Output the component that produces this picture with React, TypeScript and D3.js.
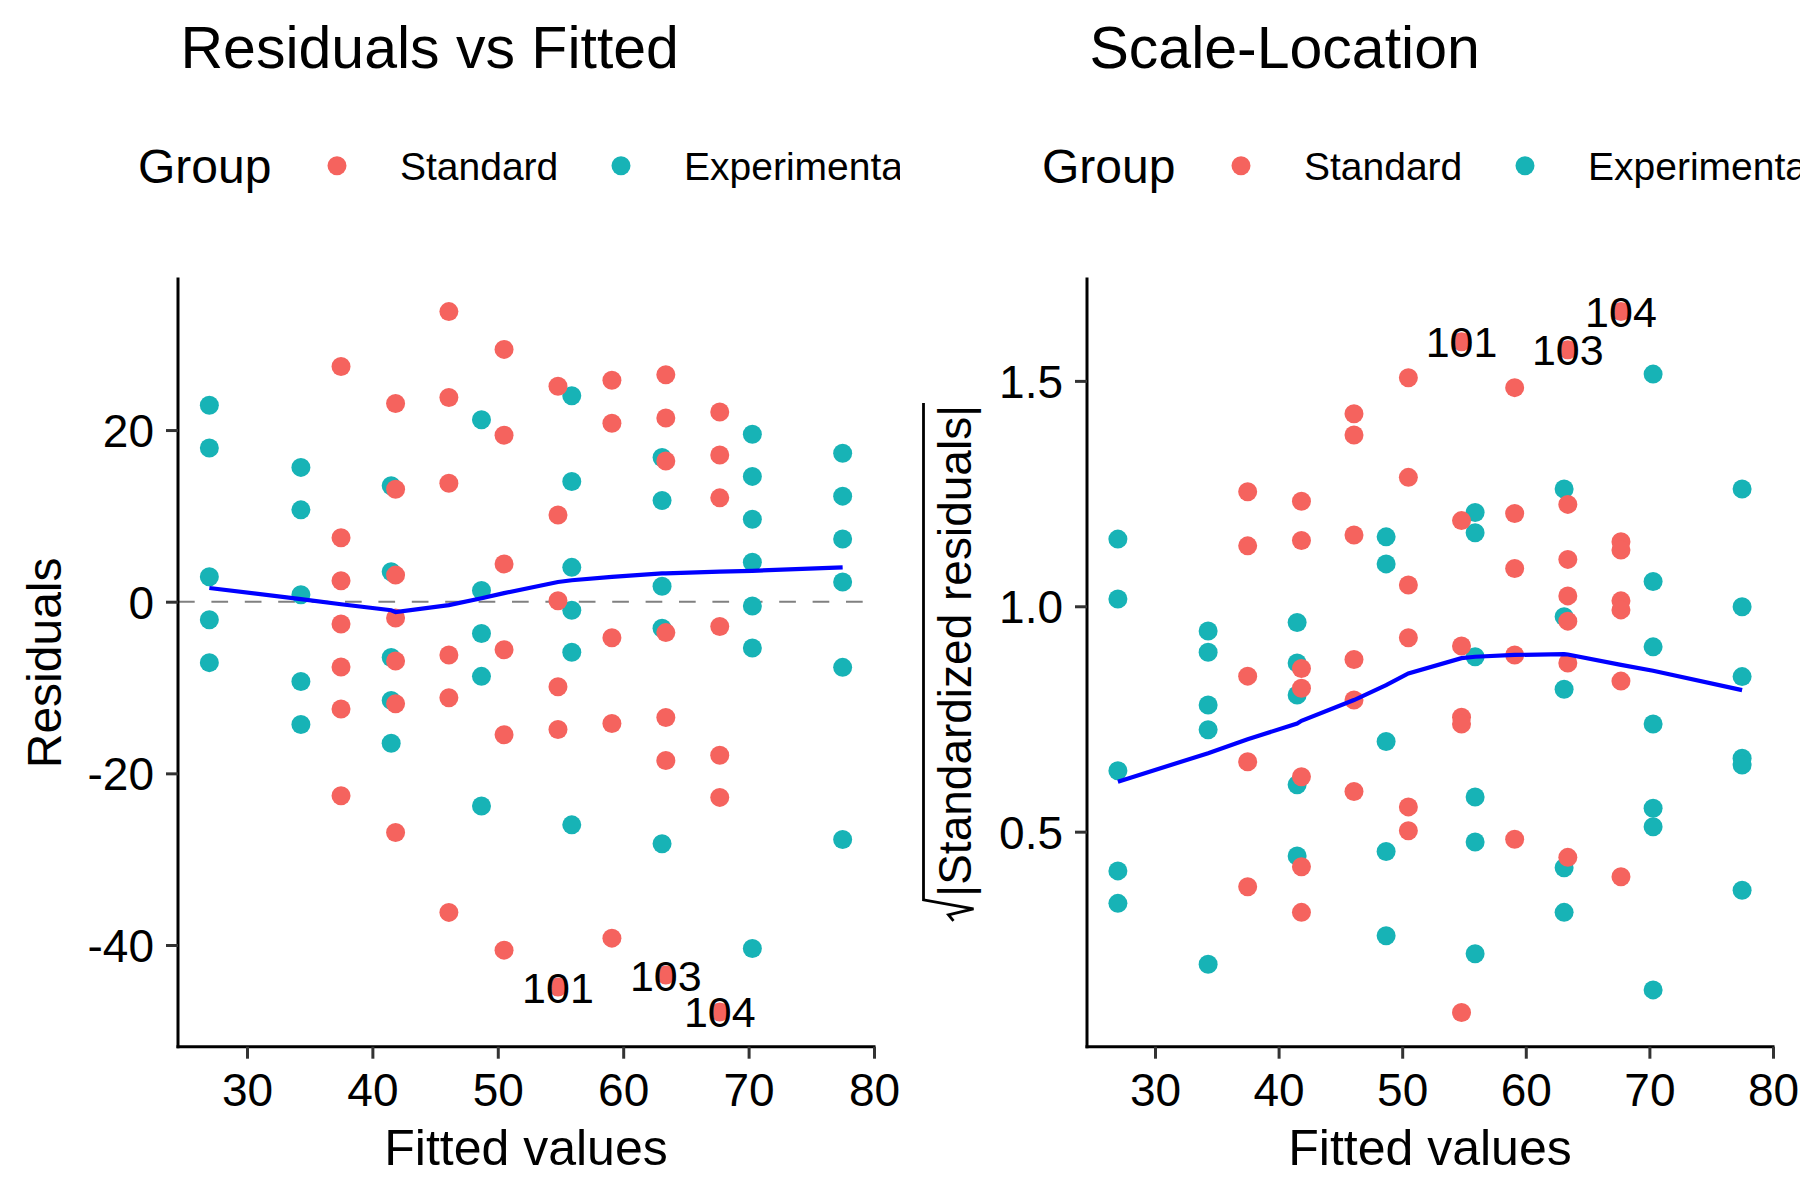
import React, { useEffect, useRef } from "react";
import * as d3 from "d3";

// fitted value of each column of points, and the group it belongs to
const fittedValues = [27.0, 34.3, 37.5, 41.5, 41.85, 46.1, 48.7, 50.5, 54.8, 55.9, 59.1, 63.1, 63.4, 67.7, 70.3, 77.5];
const columnGroup = [
  "Experimental", "Experimental", "Standard", "Experimental", "Standard", "Standard",
  "Experimental", "Standard", "Standard", "Experimental", "Standard", "Experimental",
  "Standard", "Standard", "Experimental", "Experimental",
];

// residuals per column (left panel)
const residuals = [
  [22.9, 17.9, 2.9, -2.1, -7.1],
  [15.65, 10.7, 0.8, -9.3, -14.3],
  [27.4, 7.45, 2.45, -2.6, -7.6, -12.5, -22.6],
  [13.5, 3.5, -6.5, -11.5, -16.5],
  [23.1, 13.1, 3.1, -1.9, -6.9, -11.9, -26.9],
  [33.8, 23.8, 13.8, -6.2, -11.2, -36.2],
  [21.2, 1.3, -3.7, -8.7, -23.8],
  [29.4, 19.4, 4.4, -5.6, -15.5, -40.6],
  [25.1, 10.1, 0.1, -9.9, -14.9, -44.9],
  [24.0, 14.0, 4.0, -1.0, -5.9, -26.0],
  [25.8, 20.8, -4.2, -14.2, -39.2],
  [16.8, 11.8, 1.8, -3.1, -28.2],
  [26.45, 21.4, 16.4, -3.6, -13.5, -18.5, -43.5],
  [22.1, 17.1, 12.1, -2.9, -17.9, -22.8, -47.8],
  [19.5, 14.6, 9.6, 4.6, -0.5, -5.4, -40.4],
  [17.3, 12.3, 7.3, 2.3, -7.65, -27.7],
];

// sqrt(|standardized residuals|) per column (right panel)
const sqrtStdResiduals = [
  [1.149, 1.016, 0.635, 0.413, 0.341],
  [0.945, 0.898, 0.781, 0.726, 0.206],
  [1.254, 1.134, 0.845, 0.655, 0.378],
  [0.964, 0.874, 0.803, 0.604, 0.446],
  [1.233, 1.146, 0.862, 0.818, 0.622, 0.422, 0.321],
  [1.427, 1.38, 1.158, 0.882, 0.792, 0.589],
  [1.154, 1.094, 0.7, 0.456, 0.269],
  [1.507, 1.286, 1.047, 0.93, 0.555, 0.502],
  [1.587, 1.19, 0.912, 0.754, 0.739, 0.099],
  [1.208, 1.163, 0.888, 0.577, 0.477, 0.229],
  [1.485, 1.206, 1.084, 0.892, 0.483],
  [1.26, 0.977, 0.816, 0.42, 0.321],
  [1.569, 1.226, 1.104, 1.023, 0.967, 0.874, 0.443],
  [1.654, 1.143, 1.125, 1.012, 0.992, 0.834, 0.4],
  [1.515, 1.055, 0.91, 0.739, 0.552, 0.511, 0.149],
  [1.26, 0.999, 0.844, 0.663, 0.648, 0.37],
];

// smoother through the columns
const residSmooth = [1.6, 0.3, -0.3, -1.0, -1.2, -0.4, 0.4, 1.0, 2.3, 2.5, 2.9, 3.3, 3.3, 3.5, 3.6, 4.0];
const scaleSmooth = [0.611, 0.674, 0.705, 0.74, 0.746, 0.792, 0.825, 0.851, 0.885, 0.888, 0.892, 0.894, 0.893, 0.87, 0.857, 0.814];

// labelled observations
const labelIds = ["101", "103", "104"];
const labelColumn = [8, 12, 13];
const labelResidual = [-44.9, -43.5, -47.8];
const labelScale = [1.587, 1.569, 1.654];

const groupLevels = ["Standard", "Experimental"];
const groupColors = ["#F5635E", "#17B3B6"];

const xTicks = [30, 40, 50, 60, 70, 80];
const residTicks = [-40, -20, 0, 20];
const scaleTicks = [0.5, 1.0, 1.5];

const FONT = "'Liberation Sans', Arial, Helvetica, sans-serif";
const W = 1800;
const H = 1200;

// plain hyphen for negatives, like R does
const intFormat = (v: number) => String(Math.round(v));
const oneDecimal = (v: number) => v.toFixed(1);

interface PanelSpec {
  clipX: number;
  left: number;
  right: number;
  title: string;
  values: number[][];
  smooth: number[];
  yDomain: [number, number];
  yTicks: number[];
  tickFormat: (v: number) => string;
  labelValues: number[];
  zeroLine: boolean;
  yTitle: "plain" | "sqrt";
}

const panels: PanelSpec[] = [
  {
    clipX: 0, left: 178, right: 874, title: "Residuals vs Fitted",
    values: residuals, smooth: residSmooth, yDomain: [-51.85, 37.6], yTicks: residTicks,
    tickFormat: intFormat, labelValues: labelResidual, zeroLine: true, yTitle: "plain",
  },
  {
    clipX: 900, left: 1087, right: 1773, title: "Scale-Location",
    values: sqrtStdResiduals, smooth: scaleSmooth, yDomain: [0.023, 1.726], yTicks: scaleTicks,
    tickFormat: oneDecimal, labelValues: labelScale, zeroLine: false, yTitle: "sqrt",
  },
];

const top = 279;
const bottom = 1046.7;

export default function App() {
  const svgRef = useRef<SVGSVGElement>(null);

  useEffect(() => {
    if (!svgRef.current) return;
    const svg = d3.select(svgRef.current);
    svg.selectAll("*").remove();
    svg.attr("width", W).attr("height", H).attr("viewBox", `0 0 ${W} ${H}`);
    svg.append("rect").attr("width", W).attr("height", H).attr("fill", "#ffffff");

    const color = d3.scaleOrdinal<string, string>().domain(groupLevels).range(groupColors);

    panels.forEach((p, pi) => {
      const clipId = `panel-clip-${pi}`;
      svg.append("clipPath").attr("id", clipId)
        .append("rect").attr("x", p.clipX).attr("y", 0).attr("width", 900).attr("height", H);
      const g = svg.append("g").attr("clip-path", `url(#${clipId})`).style("font-family", FONT);

      const x = d3.scaleLinear().domain([24.5, 80]).range([p.left, p.right]);
      const y = d3.scaleLinear().domain(p.yDomain).range([bottom, top]);
      const cx = (p.left + p.right) / 2;
      const cy = (top + bottom) / 2;

      // title
      g.append("text")
        .attr("x", p.left + 2.5).attr("y", 68)
        .style("font-size", "59px").attr("fill", "#000")
        .text(p.title);

      // legend (runs past the panel edge and gets cut, as in the original)
      g.append("text").attr("x", cx - 388).attr("y", 183)
        .style("font-size", "48px").text("Group");
      const legendDx = [-189, 95];
      const legendTx = [-126, 158];
      groupLevels.forEach((lvl, i) => {
        g.append("circle").attr("cx", cx + legendDx[i]).attr("cy", 165.7).attr("r", 9.5)
          .attr("fill", color(lvl));
        g.append("text").attr("x", cx + legendTx[i]).attr("y", 180)
          .style("font-size", "39px").text(lvl);
      });

      // zero reference line
      if (p.zeroLine) {
        g.append("line")
          .attr("x1", p.left).attr("x2", p.right)
          .attr("y1", y(0)).attr("y2", y(0))
          .attr("stroke", "#808080").attr("stroke-width", 2)
          .attr("stroke-dasharray", "16.7 16.7");
      }

      // points, Experimental first so Standard sits on top
      const pts: { fx: number; v: number; grp: string }[] = [];
      ["Experimental", "Standard"].forEach((grp) => {
        fittedValues.forEach((fx, ci) => {
          if (columnGroup[ci] !== grp) return;
          p.values[ci].forEach((v) => pts.push({ fx, v, grp }));
        });
      });
      g.append("g").selectAll("circle").data(pts).join("circle")
        .attr("cx", (d) => x(d.fx)).attr("cy", (d) => y(d.v)).attr("r", 9.5)
        .attr("fill", (d) => color(d.grp));

      // smoother
      const line = d3.line<number>().x((_, i) => x(fittedValues[i])).y((d) => y(d));
      g.append("path").datum(p.smooth).attr("d", line)
        .attr("fill", "none").attr("stroke", "#0000FF").attr("stroke-width", 4.2);

      // point labels
      labelIds.forEach((id, i) => {
        g.append("text")
          .attr("x", x(fittedValues[labelColumn[i]])).attr("y", y(p.labelValues[i]))
          .attr("dy", "0.36em").attr("text-anchor", "middle")
          .style("font-size", "43px").attr("fill", "#000").text(id);
      });

      // axes
      const xAxis = g.append("g").attr("transform", `translate(0,${bottom})`)
        .call(d3.axisBottom(x).tickValues(xTicks).tickSize(12).tickPadding(12).tickFormat(intFormat as any));
      xAxis.select(".domain").attr("d", `M${p.left},0H${p.right}`)
        .attr("stroke", "#000").attr("stroke-width", 3).attr("stroke-linecap", "square");
      xAxis.selectAll(".tick line").attr("stroke", "#333").attr("stroke-width", 3);
      xAxis.selectAll(".tick text").attr("y", 59).attr("dy", null)
        .style("font-size", "46px").style("font-family", FONT).attr("fill", "#000");

      const yAxis = g.append("g").attr("transform", `translate(${p.left},0)`)
        .call(d3.axisLeft(y).tickValues(p.yTicks).tickSize(12).tickPadding(12).tickFormat(p.tickFormat as any));
      yAxis.select(".domain").attr("d", `M0,${top}V${bottom}`)
        .attr("stroke", "#000").attr("stroke-width", 3).attr("stroke-linecap", "square");
      yAxis.selectAll(".tick line").attr("stroke", "#333").attr("stroke-width", 3);
      yAxis.selectAll(".tick text").attr("dy", "0.36em")
        .style("font-size", "46px").style("font-family", FONT).attr("fill", "#000");

      // x title
      g.append("text").attr("x", cx).attr("y", 1165).attr("text-anchor", "middle")
        .style("font-size", "50px").text("Fitted values");

      // y title
      if (p.yTitle === "plain") {
        g.append("text")
          .attr("transform", `translate(61,${cy}) rotate(-90)`)
          .attr("text-anchor", "middle")
          .style("font-size", "48px").text("Residuals");
      } else {
        const yg = g.append("g").attr("transform", `translate(970.5,${cy}) rotate(-90)`);
        const t = yg.append("text").style("font-size", "46px").text("|Standardized residuals|");
        const L = (t.node() as SVGTextElement).getComputedTextLength();
        const R = 24;
        const T = L + R;
        const a0 = -T / 2;
        t.attr("x", a0 + R);
        // radical sign drawn by hand
        yg.append("path")
          .attr("d", `M${a0},-17L${a0 + 6},-22L${a0 + 12},3L${a0 + 21},-47H${T / 2 + 2}`)
          .attr("fill", "none").attr("stroke", "#000").attr("stroke-width", 2.8)
          .attr("stroke-linejoin", "miter");
      }
    });
  }, []);

  return (
    <svg
      ref={svgRef}
      style={{ position: "absolute", left: 0, top: 0, display: "block", background: "#ffffff" }}
    />
  );
}
